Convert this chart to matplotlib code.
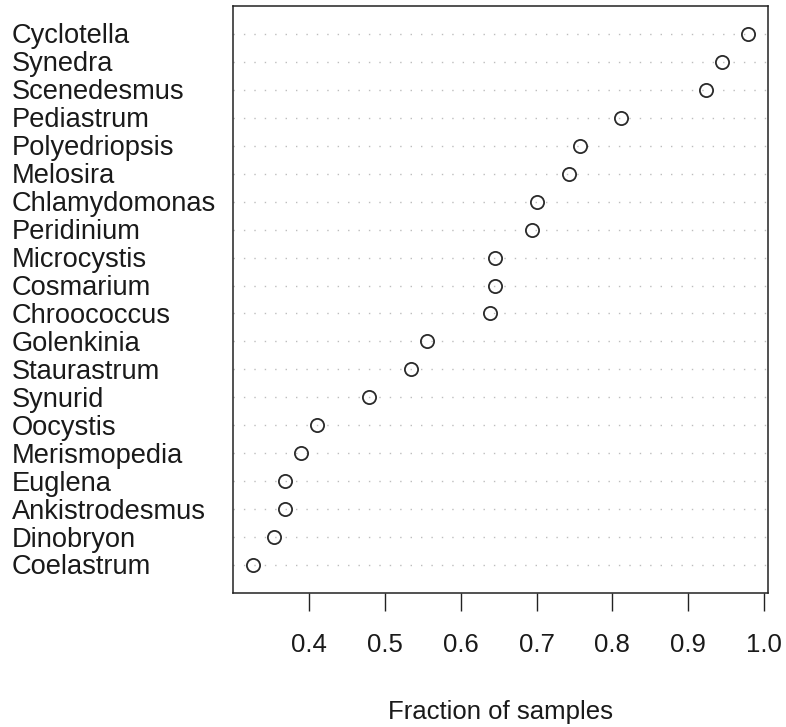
import matplotlib
matplotlib.use("Agg")
import matplotlib.pyplot as plt
import matplotlib.transforms as mtransforms

genera = ["Cyclotella", "Synedra", "Scenedesmus", "Pediastrum", "Polyedriopsis",
          "Melosira", "Chlamydomonas", "Peridinium", "Microcystis", "Cosmarium",
          "Chroococcus", "Golenkinia", "Staurastrum", "Synurid", "Oocystis",
          "Merismopedia", "Euglena", "Ankistrodesmus", "Dinobryon", "Coelastrum"]
fraction = [0.979, 0.944, 0.924, 0.812, 0.757,
            0.743, 0.700, 0.694, 0.645, 0.645,
            0.638, 0.556, 0.535, 0.479, 0.410,
            0.389, 0.368, 0.368, 0.354, 0.326]
x_ticks = [0.4, 0.5, 0.6, 0.7, 0.8, 0.9, 1.0]

# ─── Figure ────────────────────────────────────────────────────────────────────

plt.rcParams["font.family"] = ["Liberation Sans", "DejaVu Sans"]

fig = plt.figure(figsize=(7.86, 7.27), dpi=100)
ax = fig.add_axes([233 / 786, 134 / 727, 535 / 786, 587 / 727])

n = len(genera)
ypos = list(range(n, 0, -1))

for y in ypos:
    ax.axhline(y, color="#bdbdbd", linewidth=1.0, linestyle=(0, (1, 6.5)), zorder=1)

ax.plot(fraction, ypos, linestyle="none", marker="o", markersize=9.5,
        markerfacecolor="none", markeredgecolor="#2a2a2a", markeredgewidth=1.3, zorder=3)

rng = max(fraction) - min(fraction)
ax.set_xlim(min(fraction) - 0.04 * rng, max(fraction) + 0.04 * rng)
ax.set_ylim(0, n + 1)

ax.set_xticks(x_ticks)
ax.set_xticklabels([f"{t:.1f}" for t in x_ticks])
ax.tick_params(axis="x", length=13, width=1.0, pad=16, labelsize=18.5,
               color="#222222", labelcolor="#1a1a1a")
ax.tick_params(axis="y", left=False, labelleft=False)

for s in ax.spines.values():
    s.set_linewidth(1.1)
    s.set_color("#222222")

# genus labels, left-aligned at the figure's left edge
trans = mtransforms.blended_transform_factory(fig.transFigure, ax.transData)
trans = mtransforms.offset_copy(trans, fig=fig, x=0, y=-6.8, units="points")
for name, y in zip(genera, ypos):
    ax.text(12 / 786, y, name, transform=trans, ha="left", va="baseline",
            fontsize=19.6, color="#1a1a1a", clip_on=False)

fig.text((233 + 768) / 2 / 786, 8 / 727, "Fraction of samples", ha="center",
         va="baseline", fontsize=18.5, color="#1a1a1a")

plt.savefig("out.png", dpi=100)
